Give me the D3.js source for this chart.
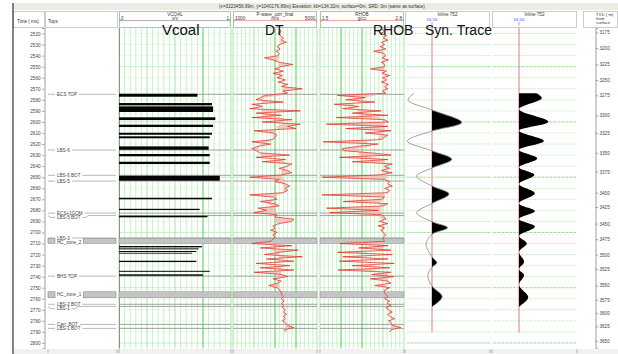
<!DOCTYPE html>
<html>
<head>
<meta charset="utf-8">
<script src="https://cdn.jsdelivr.net/npm/d3@7"></script>
<style>
  body { margin: 0; background: #fff; }
  svg { display: block; font-family: "Liberation Sans", Arial, sans-serif; }
</style>
</head>
<body>
<svg id="chart" width="618" height="354"></svg>
<script>
// ---- data ----
// log samples every 2 ms
const logTimes = d3.range(2516, 2791, 2);
const dtValues = [
  3200, 3300, 3150, 3250, 3400, 3300, 3550, 3200, 3100, 3250,
  3050, 3200, 3150, 2500, 2900, 3200, 3850, 3300, 3000, 3400,
  2900, 3350, 3100, 3500, 3150, 3600, 3300, 4300, 3400, 3600,
  2500, 2300, 2100, 3400, 1900, 2400, 1800, 4200, 2100, 3300,
  1900, 3800, 2400, 4200, 3600, 4000, 2000, 2900, 3100, 3000,
  2900, 1900, 2800, 2200, 1900, 2100, 2300, 3700, 2100, 3500,
  2400, 3800, 3600, 3200, 3600, 3800, 3300, 1800, 3200, 3000,
  3500, 3700, 3500, 3600, 3400, 1800, 2900, 3100, 2300, 3000,
  3200, 2200, 2600, 2000, 3100, 3000, 3900, 3800, 3200, 2900,
  3000, 2800, 3100, 2900, 3000, 2900, 2800, 1900, 3800, 2300,
  4100, 3200, 2500, 4300, 2600, 3900, 2100, 3700, 2300, 3900,
  2000, 3300, 3600, 2900, 3300, 3100, 2700, 3100, 3200, 3300,
  3300, 3400, 3300, 3450, 3300, 3400, 3350, 3500, 3400, 3550,
  3400, 3500, 3350, 3500, 3600, 3900, 3450, 3500
];
const rhobValues = [
  2.46, 2.50, 2.44, 2.53, 2.48, 2.55, 2.45, 2.50, 2.43, 2.52,
  2.33, 2.48, 2.52, 2.46, 2.56, 2.45, 2.50, 2.50, 2.28, 2.53,
  2.46, 2.58, 2.47, 2.53, 2.45, 2.56, 2.50, 2.55, 2.47, 2.52,
  1.77, 2.20, 1.90, 2.35, 1.72, 2.10, 1.85, 2.45, 2.00, 2.55,
  1.75, 2.50, 2.56, 1.60, 2.55, 1.90, 2.60, 2.20, 2.55, 2.50,
  2.45, 1.55, 2.40, 2.10, 1.85, 1.86, 2.30, 2.60, 1.80, 2.55,
  2.00, 2.62, 2.50, 2.58, 2.45, 2.62, 2.40, 1.53, 2.50, 2.58,
  2.55, 2.62, 2.50, 2.58, 2.55, 1.53, 2.50, 2.45, 1.86, 2.55,
  2.48, 1.60, 2.40, 1.65, 2.45, 2.50, 2.52, 2.42, 2.55, 2.40,
  2.50, 2.44, 2.48, 2.52, 2.49, 2.47, 2.50, 1.81, 2.55, 2.10,
  2.60, 1.77, 2.62, 1.85, 2.55, 1.80, 2.65, 2.00, 2.58, 1.78,
  2.60, 2.30, 2.64, 2.28, 2.55, 2.60, 2.35, 2.58, 2.50, 2.49,
  2.52, 2.55, 2.50, 2.58, 2.54, 2.60, 2.52, 2.56, 2.62, 2.55,
  2.58, 2.66, 2.56, 2.60, 2.62, 2.75, 2.60, 2.58
];

// coal beds: top time, base time, vcoal
const coalTops  = [2574.5, 2582.9, 2585.9, 2595.8, 2602.5, 2609.8, 2613.0, 2622.1, 2629.0, 2636.0, 2648.7,
                   2668.6, 2678.6, 2684.9, 2712.3, 2714.4, 2716.8, 2718.4, 2725.6, 2734.7, 2737.9];
const coalBases = [2577.2, 2585.0, 2591.0, 2598.3, 2604.6, 2611.6, 2614.8, 2625.2, 2631.1, 2638.1, 2653.2,
                   2670.0, 2679.7, 2686.3, 2713.5, 2715.3, 2717.7, 2718.9, 2726.8, 2735.6, 2739.2];
const coalVcoal = [0.70, 0.83, 0.84, 0.86, 0.84, 0.83, 0.81, 0.80, 0.81, 0.81, 0.90,
                   0.83, 0.72, 0.79, 0.74, 0.71, 0.69, 0.65, 0.69, 0.81, 0.75];

// formation tops and zones
const topNames = ['ECS TOP', 'LBS-6', 'LBS-6 BOT', 'LBS-5', 'ECS+1GOM', 'LBS-5 BOT',
                  'LBS-3', 'BHS TOP', 'LBS-2 BOT', 'LBS-1', 'Carr_BOT', 'LBS-1 BOT'];
const topTimes = [2575, 2625.4, 2648.3, 2653.5, 2682.5, 2684.7,
                  2705, 2739.5, 2765, 2766.9, 2783.2, 2786.8];
const zoneNames = ['HC_zone_2', 'HC_zone_1'];
const zoneTops  = [2705.6, 2753.7];
const zoneBases = [2709.8, 2759.1];

// synthetic traces: time, amplitude (peaks and zero crossings)
const syn1Times = [2574.1, 2580.2, 2589.2, 2600.4, 2608.2, 2617.3, 2626.1, 2633.8, 2641.7, 2649, 2658, 2665.2,
                   2673.7, 2682.2, 2690.3, 2695.7, 2701.7, 2710.8, 2722, 2727.4, 2731.6, 2738.6, 2748.5, 2758.2, 2767.2];
const syn1Amp   = [-0.60, -0.80, 0, 0.99, 0, -0.82, 0, 0.66, 0, -0.51, 0, 0.57,
                   0, -0.51, 0, 0.52, 0, -0.20, 0, 0.16, 0, -0.14, 0, 0.34, 0];
const syn2Times = [2574.1, 2578.6, 2588.6, 2599.8, 2608, 2617.3, 2625.4, 2633, 2641.1, 2648, 2656.2, 2664.6,
                   2673.7, 2680.6, 2687.9, 2694.8, 2703.3, 2709.9, 2717.5, 2726.5, 2733.4, 2738.6, 2747.6, 2758.7, 2767.2];
const syn2Amp   = [0.59, 0.76, 0, 0.98, 0, 0.83, 0, 0.61, 0, 0.51, 0, 0.53,
                   0, 0.53, 0, 0.53, 0, 0.26, 0, 0.17, 0, 0.17, 0, 0.31, 0];

// axes
const timeTicks = d3.range(2520, 2801, 10);
const tvdLabels = [3175, 3200, 3225, 3250, 3275, 3300, 3325, 3350, 3375, 3400,
                   3425, 3450, 3475, 3500, 3525, 3550, 3575, 3600, 3625, 3650];
const tvdTimes  = [2519, 2533, 2548, 2562, 2576, 2594, 2610, 2628, 2645, 2664,
                   2677, 2692, 2706, 2720, 2733, 2748, 2761, 2773, 2785, 2798];

// ---- layout ----
const svg = d3.select('#chart');
const plotTop = 28, plotBottom = 348.5;
const y = d3.scaleLinear().domain([2515, 2805]).range([plotTop, plotBottom]);

const vcoalX = d3.scaleLinear().domain([0, 1]).range([119, 231]);
const dtX = d3.scaleLinear().domain([1000, 5000]).range([233, 317]);
const rhobX = d3.scaleLinear().domain([1.5, 2.8]).range([320, 404]);
const syn1X = d3.scaleLinear().domain([-1, 1]).range([402, 462]);
const syn2X = d3.scaleLinear().domain([-1, 1]).range([489, 549]);

svg.append('rect').attr('width', 618).attr('height', 354).attr('fill', '#fff');

// info bar
svg.append('rect').attr('x', 13).attr('y', 3).attr('width', 605).attr('height', 7)
  .attr('fill', '#ecece6');
svg.append('text').attr('x', 322).attr('y', 8.3).attr('text-anchor', 'middle')
  .attr('font-size', 4.6).attr('fill', '#333')
  .text('(x=3223456.99m, y=1040176.89m) Elevation: kb=134.32m, surface=0m, SRD: 0m (same as surface)');

// header boxes
const headers = [[13, 45, '#b8b8b8'], [45, 118, '#b8b8b8'], [119, 231, '#66cc66'], [233, 317, '#66cc66'],
                 [320, 404, '#66cc66'], [405, 490, '#b8b8b8'], [492, 577, '#b8b8b8'], [583, 618, '#b8b8b8']];
headers.forEach(h => {
  svg.append('rect').attr('x', h[0] + 0.5).attr('y', 11.5).attr('width', h[1] - h[0] - 1).attr('height', 16)
    .attr('fill', '#fff').attr('stroke', h[2]).attr('stroke-width', 0.7);
});

const small = (x, yy, txt, anchor, color, size) =>
  svg.append('text').attr('x', x).attr('y', yy).attr('text-anchor', anchor || 'start')
    .attr('font-size', size || 4.6).attr('fill', color || '#333').text(txt);

small(17, 23, 'Time ( ms)');
small(48, 23, 'Tops');

// log track headers: name, unit, left, right, scale colour
function logHeader(scale, name, unit, left, right, color) {
  const [x0, x1] = scale.range();
  const xm = (x0 + x1) / 2;
  small(xm, 16.2, name, 'middle');
  svg.append('line').attr('x1', x0 + 1).attr('x2', x1 - 1).attr('y1', 20.6).attr('y2', 20.6)
    .attr('stroke', color).attr('stroke-width', 0.6);
  [x0 + 1, x1 - 1].forEach(xx => svg.append('line').attr('x1', xx).attr('x2', xx)
    .attr('y1', 18.8).attr('y2', 21.6).attr('stroke', color).attr('stroke-width', 0.6));
  small(x0 + 2, 19.8, left, 'start');
  small(x1 - 2, 19.8, right, 'end');
  small(xm, 20.2, unit, 'middle');
}
logHeader(vcoalX, 'VCOAL', 'v/v', '0', '1', '#777');
logHeader(dtX, 'P-wave_corr_final', 'm/s', '1000', '5000', '#e06060');
logHeader(rhobX, 'RHOB', 'g/cc', '1.5', '2.8', '#e06060');

// seismic headers
[[405, 490, 432], [492, 577, 519]].forEach(s => {
  small((s[0] + s[1]) / 2, 15.5, 'Inline 752', 'middle');
  small(s[2], 20.6, '16.56', 'middle', '#3a4cff', 4.3);
  svg.append('line').attr('x1', s[2]).attr('x2', s[2]).attr('y1', 22).attr('y2', 25.5)
    .attr('stroke', '#3a4cff').attr('stroke-width', 0.5);
});
small(596, 15.5, 'TVD ( m)', 'start', '#333', 4.3);
small(596, 19.5, 'from', 'start', '#333', 4.3);
small(596, 23.5, 'surface', 'start', '#333', 4.3);

// ---- log track grids ----
const gridTimes = d3.range(2520, 2806, 10);
function logGrid(scale, bright) {
  const [x0, x1] = scale.range();
  const g = svg.append('g');
  gridTimes.forEach(t => {
    g.append('line').attr('x1', x0).attr('x2', x1).attr('y1', y(t)).attr('y2', y(t))
      .attr('stroke', t % 50 === 0 ? '#9fe89f' : '#dcf6dc').attr('stroke-width', 0.6);
  });
  d3.range(0, 21).forEach(i => {
    const xx = x0 + i * (x1 - x0) / 20;
    let c = '#b2eeb2', w = 0.7;
    if (i % 5 === 0) { c = '#80de80'; }
    if (bright.includes(i)) { c = '#2fcf2f'; w = 0.9; }
    g.append('line').attr('x1', xx).attr('x2', xx).attr('y1', plotTop).attr('y2', plotBottom)
      .attr('stroke', c).attr('stroke-width', w);
  });
}
logGrid(vcoalX, [15]);
logGrid(dtX, [10, 15]);
logGrid(rhobX, [5, 10]);
svg.append('line').attr('x1', 119.5).attr('x2', 119.5).attr('y1', plotTop).attr('y2', plotBottom)
  .attr('stroke', '#7a7a7a').attr('stroke-width', 0.8);

// seismic grids
[[407, 490], [493, 577]].forEach(s => {
  gridTimes.forEach(t => {
    svg.append('line').attr('x1', s[0]).attr('x2', s[1]).attr('y1', y(t)).attr('y2', y(t))
      .attr('stroke', t % 50 === 0 ? '#66dd66' : '#b6ebb6').attr('stroke-width', 0.7)
      .attr('stroke-dasharray', '3,1');
  });
});

// ---- zones & tops in tracks ----
const trackScales = [vcoalX, dtX, rhobX];
trackScales.forEach(sc => {
  const [x0, x1] = sc.range();
  zoneNames.forEach((z, i) => {
    svg.append('rect').attr('x', x0).attr('y', y(zoneTops[i])).attr('width', x1 - x0)
      .attr('height', y(zoneBases[i]) - y(zoneTops[i]))
      .attr('fill', '#c4c4c4').attr('stroke', '#8a8a8a').attr('stroke-width', 0.5);
  });
  topTimes.forEach(t => {
    svg.append('line').attr('x1', x0).attr('x2', x1).attr('y1', y(t)).attr('y2', y(t))
      .attr('stroke', '#8c8c8c').attr('stroke-width', 0.8);
  });
});

// ---- vcoal bars ----
svg.append('g').selectAll('rect')
  .data(coalVcoal)
  .join('rect')
  .attr('x', vcoalX(0))
  .attr('y', (d, i) => y(coalTops[i]))
  .attr('width', d => vcoalX(d) - vcoalX(0))
  .attr('height', (d, i) => Math.max(0.8, y(coalBases[i]) - y(coalTops[i])))
  .attr('fill', '#050505');

// ---- DT and RHOB curves ----
function drawLog(values, scale) {
  const pts = values.map((v, i) => {
    const win = values.slice(Math.max(0, i - 4), i + 5);
    return { t: logTimes[i], v: v, trend: d3.median(win) };
  });
  svg.append('path').datum(pts)
    .attr('d', d3.area().y(d => y(d.t)).x0(d => scale(d.trend)).x1(d => scale(d.v)))
    .attr('fill', '#f3b5ad').attr('opacity', 0.75);
  svg.append('path').datum(pts)
    .attr('d', d3.line().y(d => y(d.t)).x(d => scale(d.v)))
    .attr('fill', 'none').attr('stroke', '#e3281f').attr('stroke-width', 0.7);
}
drawLog(dtValues, dtX);
drawLog(rhobValues, rhobX);

// ---- tops column ----
const labels = topNames.map((n, i) => ({ name: n, y: y(topTimes[i]), zone: null }))
  .concat(zoneNames.map((n, i) => ({ name: n, y: (y(zoneTops[i]) + y(zoneBases[i])) / 2, zone: i })))
  .sort((a, b) => a.y - b.y);
let prevY = -10;
labels.forEach(l => {
  l.ly = Math.max(l.y, prevY + 4.4);
  prevY = l.ly;
});
const topsG = svg.append('g');
labels.forEach(l => {
  const txt = topsG.append('text').attr('x', 57).attr('y', l.ly + 1.6)
    .attr('font-size', 4.6).attr('fill', '#444').text(l.name);
  const xe = 57 + txt.node().getComputedTextLength();
  if (l.zone !== null) {
    const z0 = y(zoneTops[l.zone]), z1 = y(zoneBases[l.zone]);
    [[48, 55], [xe + 2, 116]].forEach(r => {
      topsG.append('rect').attr('x', r[0]).attr('y', z0).attr('width', r[1] - r[0]).attr('height', z1 - z0)
        .attr('fill', '#c4c4c4').attr('stroke', '#7a7a7a').attr('stroke-width', 0.5);
    });
  } else {
    const bend = l.ly - l.y > 0.5;
    topsG.append('path')
      .attr('d', bend ? `M48,${l.y}L51,${l.ly}L55,${l.ly}` : `M48,${l.y}L55,${l.y}`)
      .attr('fill', 'none').attr('stroke', '#999').attr('stroke-width', 0.7);
    topsG.append('path')
      .attr('d', bend ? `M${xe + 2},${l.ly}L${xe + 5},${l.ly}L${xe + 8},${l.y}L116,${l.y}` : `M${xe + 2},${l.y}L116,${l.y}`)
      .attr('fill', 'none').attr('stroke', '#999').attr('stroke-width', 0.7);
  }
});

// ---- synthetic traces ----
const defs = svg.append('defs');
defs.append('clipPath').attr('id', 'pos1').append('rect')
  .attr('x', syn1X(0)).attr('y', plotTop).attr('width', 60).attr('height', plotBottom - plotTop);
defs.append('clipPath').attr('id', 'pos2').append('rect')
  .attr('x', syn2X(0)).attr('y', plotTop).attr('width', 60).attr('height', plotBottom - plotTop);

function drawTrace(times, amps, scale, clipId, withLine) {
  const pts = times.map((t, i) => ({ t: t, a: amps[i] }));
  const curve = d3.curveCatmullRom.alpha(0.5);
  svg.append('line').attr('x1', scale(0)).attr('x2', scale(0))
    .attr('y1', plotTop).attr('y2', y(2790.4))
    .attr('stroke', '#e77a7a').attr('stroke-width', 1);
  svg.append('path').datum(pts)
    .attr('clip-path', `url(#${clipId})`)
    .attr('d', d3.area().curve(curve).y(d => y(d.t)).x0(scale(0)).x1(d => scale(d.a)))
    .attr('fill', '#000');
  if (withLine) {
    svg.append('path').datum(pts)
      .attr('d', d3.line().curve(curve).y(d => y(d.t)).x(d => scale(d.a)))
      .attr('fill', 'none').attr('stroke', '#888').attr('stroke-width', 0.8);
  }
}
drawTrace(syn1Times, syn1Amp, syn1X, 'pos1', true);
drawTrace(syn2Times, syn2Amp, syn2X, 'pos2', false);

// ---- axes ----
const leftAxis = svg.append('g').attr('transform', 'translate(44.5,0)')
  .call(d3.axisLeft(y).tickValues(timeTicks).tickSize(2.5).tickFormat(d3.format('d')));
const rightAxis = svg.append('g').attr('transform', 'translate(595.5,0)')
  .call(d3.axisRight(y).tickValues(tvdTimes).tickSize(2.5).tickFormat((d, i) => tvdLabels[i]));
[leftAxis, rightAxis].forEach(a => {
  a.select('.domain').attr('stroke', '#777').attr('stroke-width', 0.7);
  a.selectAll('.tick line').attr('stroke', '#777').attr('stroke-width', 0.6);
  a.selectAll('.tick text').attr('font-size', 4.6).attr('fill', '#444')
    .attr('font-family', '"Liberation Sans", Arial, sans-serif');
});
leftAxis.selectAll('.tick text').attr('x', -4);
rightAxis.selectAll('.tick text').attr('x', 4);

// ---- footer ----
svg.append('rect').attr('x', 13).attr('y', 349).attr('width', 605).attr('height', 5).attr('fill', '#f1f1f1');
[48, 117, 119, 231, 233, 317, 320, 404, 405, 490, 492, 577].forEach(xx => {
  svg.append('line').attr('x1', xx).attr('x2', xx).attr('y1', 349.5).attr('y2', 353)
    .attr('stroke', '#888').attr('stroke-width', 0.6);
});

// window frame
svg.append('line').attr('x1', 13).attr('x2', 13).attr('y1', 3).attr('y2', 354)
  .attr('stroke', '#333').attr('stroke-width', 1.2);

// ---- big annotations ----
const big = [['Vcoal', 162, 15], ['DT', 265, 14], ['RHOB', 373, 14], ['Syn. Trace', 425, 14]];
big.forEach(b => {
  svg.append('text').attr('x', b[1]).attr('y', 35).attr('font-size', b[2]).attr('fill', '#111').text(b[0]);
});
</script>
</body>
</html>
